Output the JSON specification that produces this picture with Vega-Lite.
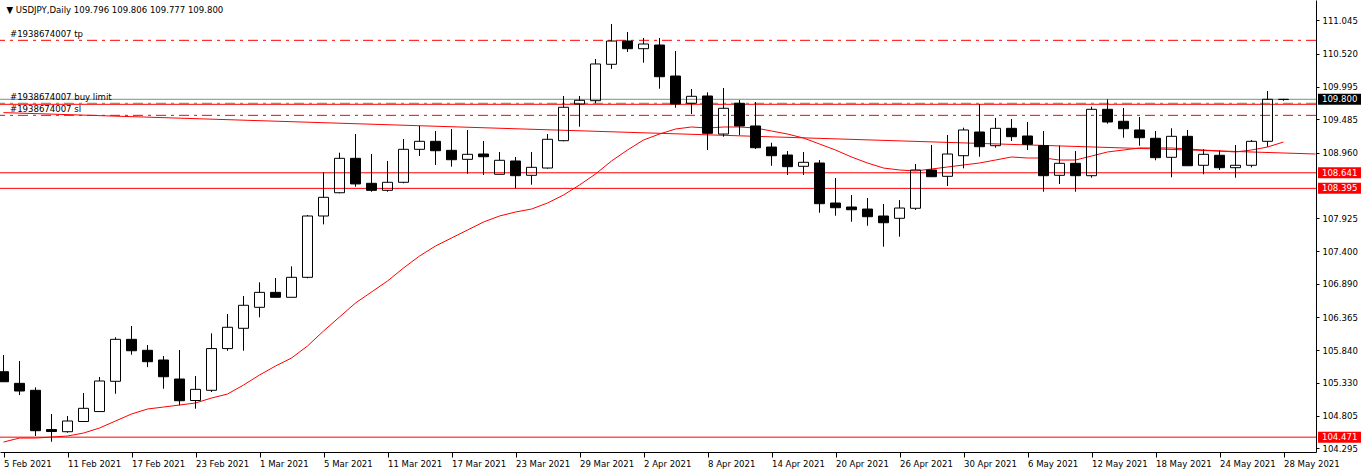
{
  "$schema": "https://vega.github.io/schema/vega-lite/v6.json",
  "width": 1316,
  "height": 452,
  "autosize": {"type": "none"},
  "padding": {"left": 0, "top": 0, "right": 46, "bottom": 21},
  "background": "#ffffff",
  "config": {
    "view": {"stroke": null},
    "font": "DejaVu Sans Condensed, Liberation Sans, sans-serif",
    "axis": {"domainColor": "#000000", "tickColor": "#000000", "labelColor": "#000000", "labelFontSize": 9.5, "labelFont": "DejaVu Sans Condensed, Liberation Sans, sans-serif", "grid": false, "labelOverlap": false, "labelFlush": false}
  },
  "datasets": {
    "candles": [
      {"d": "5 Feb 2021", "o": 105.503, "h": 105.767, "l": 105.341, "c": 105.345, "ma": 104.394},
      {"d": "8 Feb 2021", "o": 105.320, "h": 105.672, "l": 105.135, "c": 105.199, "ma": 104.457},
      {"d": "9 Feb 2021", "o": 105.210, "h": 105.257, "l": 104.489, "c": 104.573, "ma": 104.457},
      {"d": "10 Feb 2021", "o": 104.591, "h": 104.836, "l": 104.399, "c": 104.560, "ma": 104.473},
      {"d": "11 Feb 2021", "o": 104.557, "h": 104.804, "l": 104.541, "c": 104.726, "ma": 104.489},
      {"d": "12 Feb 2021", "o": 104.718, "h": 105.167, "l": 104.715, "c": 104.926, "ma": 104.536},
      {"d": "15 Feb 2021", "o": 104.875, "h": 105.420, "l": 104.872, "c": 105.357, "ma": 104.615},
      {"d": "16 Feb 2021", "o": 105.352, "h": 106.046, "l": 105.156, "c": 106.014, "ma": 104.726},
      {"d": "17 Feb 2021", "o": 106.014, "h": 106.224, "l": 105.771, "c": 105.834, "ma": 104.836},
      {"d": "18 Feb 2021", "o": 105.841, "h": 105.924, "l": 105.576, "c": 105.661, "ma": 104.915},
      {"d": "19 Feb 2021", "o": 105.688, "h": 105.751, "l": 105.235, "c": 105.424, "ma": 104.946},
      {"d": "22 Feb 2021", "o": 105.388, "h": 105.846, "l": 104.973, "c": 105.046, "ma": 104.978},
      {"d": "23 Feb 2021", "o": 105.049, "h": 105.435, "l": 104.920, "c": 105.225, "ma": 105.010},
      {"d": "24 Feb 2021", "o": 105.210, "h": 106.109, "l": 105.183, "c": 105.868, "ma": 105.088},
      {"d": "25 Feb 2021", "o": 105.868, "h": 106.413, "l": 105.834, "c": 106.204, "ma": 105.151},
      {"d": "26 Feb 2021", "o": 106.188, "h": 106.697, "l": 105.834, "c": 106.551, "ma": 105.293},
      {"d": "1 Mar 2021", "o": 106.519, "h": 106.913, "l": 106.362, "c": 106.755, "ma": 105.451},
      {"d": "2 Mar 2021", "o": 106.755, "h": 106.981, "l": 106.674, "c": 106.677, "ma": 105.593},
      {"d": "3 Mar 2021", "o": 106.677, "h": 107.165, "l": 106.674, "c": 106.992, "ma": 105.719},
      {"d": "4 Mar 2021", "o": 106.992, "h": 107.975, "l": 106.976, "c": 107.959, "ma": 105.909},
      {"d": "5 Mar 2021", "o": 107.959, "h": 108.648, "l": 107.827, "c": 108.254, "ma": 106.145},
      {"d": "8 Mar 2021", "o": 108.326, "h": 108.958, "l": 108.317, "c": 108.869, "ma": 106.366},
      {"d": "9 Mar 2021", "o": 108.869, "h": 109.252, "l": 108.421, "c": 108.465, "ma": 106.587},
      {"d": "10 Mar 2021", "o": 108.475, "h": 108.937, "l": 108.342, "c": 108.364, "ma": 106.760},
      {"d": "11 Mar 2021", "o": 108.364, "h": 108.827, "l": 108.342, "c": 108.491, "ma": 106.934},
      {"d": "12 Mar 2021", "o": 108.491, "h": 109.174, "l": 108.475, "c": 109.011, "ma": 107.139},
      {"d": "15 Mar 2021", "o": 109.011, "h": 109.379, "l": 108.905, "c": 109.137, "ma": 107.328},
      {"d": "16 Mar 2021", "o": 109.137, "h": 109.300, "l": 108.764, "c": 108.989, "ma": 107.486},
      {"d": "17 Mar 2021", "o": 108.995, "h": 109.331, "l": 108.737, "c": 108.847, "ma": 107.612},
      {"d": "18 Mar 2021", "o": 108.853, "h": 109.316, "l": 108.626, "c": 108.932, "ma": 107.738},
      {"d": "19 Mar 2021", "o": 108.937, "h": 109.142, "l": 108.606, "c": 108.894, "ma": 107.864},
      {"d": "22 Mar 2021", "o": 108.617, "h": 108.969, "l": 108.614, "c": 108.838, "ma": 107.959},
      {"d": "23 Mar 2021", "o": 108.827, "h": 108.890, "l": 108.396, "c": 108.595, "ma": 108.022},
      {"d": "24 Mar 2021", "o": 108.601, "h": 108.969, "l": 108.453, "c": 108.727, "ma": 108.069},
      {"d": "25 Mar 2021", "o": 108.716, "h": 109.252, "l": 108.705, "c": 109.169, "ma": 108.164},
      {"d": "26 Mar 2021", "o": 109.147, "h": 109.852, "l": 109.137, "c": 109.674, "ma": 108.290},
      {"d": "29 Mar 2021", "o": 109.726, "h": 109.852, "l": 109.368, "c": 109.784, "ma": 108.448},
      {"d": "30 Mar 2021", "o": 109.778, "h": 110.435, "l": 109.737, "c": 110.357, "ma": 108.621},
      {"d": "31 Mar 2021", "o": 110.352, "h": 110.987, "l": 110.278, "c": 110.719, "ma": 108.827},
      {"d": "1 Apr 2021", "o": 110.719, "h": 110.861, "l": 110.546, "c": 110.598, "ma": 109.000},
      {"d": "2 Apr 2021", "o": 110.598, "h": 110.767, "l": 110.377, "c": 110.672, "ma": 109.158},
      {"d": "5 Apr 2021", "o": 110.656, "h": 110.767, "l": 109.967, "c": 110.156, "ma": 109.252},
      {"d": "6 Apr 2021", "o": 110.167, "h": 110.562, "l": 109.667, "c": 109.726, "ma": 109.331},
      {"d": "7 Apr 2021", "o": 109.737, "h": 109.962, "l": 109.568, "c": 109.847, "ma": 109.363},
      {"d": "8 Apr 2021", "o": 109.852, "h": 109.910, "l": 109.000, "c": 109.264, "ma": 109.347},
      {"d": "9 Apr 2021", "o": 109.252, "h": 109.978, "l": 109.210, "c": 109.658, "ma": 109.363},
      {"d": "12 Apr 2021", "o": 109.737, "h": 109.789, "l": 109.237, "c": 109.379, "ma": 109.363},
      {"d": "13 Apr 2021", "o": 109.379, "h": 109.757, "l": 109.016, "c": 109.036, "ma": 109.347},
      {"d": "14 Apr 2021", "o": 109.047, "h": 109.115, "l": 108.752, "c": 108.910, "ma": 109.300},
      {"d": "15 Apr 2021", "o": 108.921, "h": 108.984, "l": 108.606, "c": 108.737, "ma": 109.252},
      {"d": "16 Apr 2021", "o": 108.743, "h": 108.969, "l": 108.606, "c": 108.806, "ma": 109.189},
      {"d": "19 Apr 2021", "o": 108.795, "h": 108.842, "l": 108.011, "c": 108.153, "ma": 109.095},
      {"d": "20 Apr 2021", "o": 108.164, "h": 108.558, "l": 107.964, "c": 108.090, "ma": 109.000},
      {"d": "21 Apr 2021", "o": 108.101, "h": 108.290, "l": 107.869, "c": 108.058, "ma": 108.890},
      {"d": "22 Apr 2021", "o": 108.069, "h": 108.243, "l": 107.806, "c": 107.948, "ma": 108.795},
      {"d": "23 Apr 2021", "o": 107.959, "h": 108.148, "l": 107.475, "c": 107.853, "ma": 108.716},
      {"d": "26 Apr 2021", "o": 107.923, "h": 108.211, "l": 107.633, "c": 108.085, "ma": 108.685},
      {"d": "27 Apr 2021", "o": 108.081, "h": 108.779, "l": 108.054, "c": 108.685, "ma": 108.669},
      {"d": "28 Apr 2021", "o": 108.685, "h": 109.079, "l": 108.577, "c": 108.579, "ma": 108.700},
      {"d": "29 Apr 2021", "o": 108.585, "h": 109.237, "l": 108.432, "c": 108.937, "ma": 108.732},
      {"d": "30 Apr 2021", "o": 108.910, "h": 109.352, "l": 108.711, "c": 109.316, "ma": 108.764},
      {"d": "3 May 2021", "o": 109.284, "h": 109.726, "l": 108.894, "c": 109.052, "ma": 108.795},
      {"d": "4 May 2021", "o": 109.068, "h": 109.505, "l": 109.036, "c": 109.342, "ma": 108.842},
      {"d": "5 May 2021", "o": 109.342, "h": 109.489, "l": 109.142, "c": 109.210, "ma": 108.890},
      {"d": "6 May 2021", "o": 109.221, "h": 109.442, "l": 109.000, "c": 109.090, "ma": 108.874},
      {"d": "7 May 2021", "o": 109.068, "h": 109.300, "l": 108.342, "c": 108.595, "ma": 108.874},
      {"d": "10 May 2021", "o": 108.601, "h": 109.068, "l": 108.464, "c": 108.790, "ma": 108.842},
      {"d": "11 May 2021", "o": 108.790, "h": 108.984, "l": 108.342, "c": 108.595, "ma": 108.842},
      {"d": "12 May 2021", "o": 108.595, "h": 109.683, "l": 108.563, "c": 109.642, "ma": 108.905},
      {"d": "13 May 2021", "o": 109.642, "h": 109.800, "l": 109.415, "c": 109.442, "ma": 108.969},
      {"d": "14 May 2021", "o": 109.453, "h": 109.663, "l": 109.194, "c": 109.336, "ma": 109.000},
      {"d": "17 May 2021", "o": 109.316, "h": 109.521, "l": 109.068, "c": 109.194, "ma": 109.032},
      {"d": "18 May 2021", "o": 109.185, "h": 109.300, "l": 108.838, "c": 108.879, "ma": 109.032},
      {"d": "19 May 2021", "o": 108.885, "h": 109.342, "l": 108.570, "c": 109.216, "ma": 109.032},
      {"d": "20 May 2021", "o": 109.216, "h": 109.316, "l": 108.752, "c": 108.752, "ma": 109.016},
      {"d": "21 May 2021", "o": 108.759, "h": 109.011, "l": 108.617, "c": 108.932, "ma": 109.000},
      {"d": "24 May 2021", "o": 108.917, "h": 108.989, "l": 108.685, "c": 108.721, "ma": 108.984},
      {"d": "25 May 2021", "o": 108.721, "h": 109.079, "l": 108.563, "c": 108.759, "ma": 108.969},
      {"d": "26 May 2021", "o": 108.759, "h": 109.158, "l": 108.727, "c": 109.137, "ma": 109.000},
      {"d": "27 May 2021", "o": 109.137, "h": 109.931, "l": 109.052, "c": 109.800, "ma": 109.047},
      {"d": "28 May 2021", "o": 109.796, "h": 109.806, "l": 109.777, "c": 109.800, "ma": 109.126}
    ],
    "levels": [
      {"p": 109.721, "kind": "solid"},
      {"p": 108.641, "kind": "solid"},
      {"p": 108.395, "kind": "solid"},
      {"p": 104.471, "kind": "solid"},
      {"p": 110.730, "kind": "tpsl"},
      {"p": 109.547, "kind": "tpsl"},
      {"p": 109.737, "kind": "pending"},
      {"p": 109.800, "kind": "bid"}
    ],
    "trend": [
      {"d": "5 Feb 2021", "p": 109.590},
      {"d": "1 Jun 2021", "p": 108.937}
    ],
    "orders": [
      {"d": "5 Feb 2021", "p": 110.730, "t": "#1938674007 tp"},
      {"d": "5 Feb 2021", "p": 109.737, "t": "#1938674007 buy limit"},
      {"d": "5 Feb 2021", "p": 109.547, "t": "#1938674007 sl"}
    ],
    "tags": [
      {"d": "1 Jun 2021", "p": 109.800, "t": "109.800", "kind": "bid"},
      {"d": "1 Jun 2021", "p": 108.641, "t": "108.641", "kind": "level"},
      {"d": "1 Jun 2021", "p": 108.395, "t": "108.395", "kind": "level"},
      {"d": "1 Jun 2021", "p": 104.471, "t": "104.471", "kind": "level"}
    ],
    "header": [
      {"d": "5 Feb 2021", "p": 111.366, "t": "▼ USDJPY,Daily  109.796 109.806 109.777 109.800"}
    ]
  },
  "layer": [
    {
      "data": {"name": "candles"},
      "mark": {"type": "line", "color": "#ff0000", "strokeWidth": 1},
      "encoding": {
        "x": {
          "field": "d", "type": "ordinal",
          "scale": {
            "type": "point", "padding": 0.125, "align": 0.875,
            "domain": ["5 Feb 2021","8 Feb 2021","9 Feb 2021","10 Feb 2021","11 Feb 2021","12 Feb 2021","15 Feb 2021","16 Feb 2021","17 Feb 2021","18 Feb 2021","19 Feb 2021","22 Feb 2021","23 Feb 2021","24 Feb 2021","25 Feb 2021","26 Feb 2021","1 Mar 2021","2 Mar 2021","3 Mar 2021","4 Mar 2021","5 Mar 2021","8 Mar 2021","9 Mar 2021","10 Mar 2021","11 Mar 2021","12 Mar 2021","15 Mar 2021","16 Mar 2021","17 Mar 2021","18 Mar 2021","19 Mar 2021","22 Mar 2021","23 Mar 2021","24 Mar 2021","25 Mar 2021","26 Mar 2021","29 Mar 2021","30 Mar 2021","31 Mar 2021","1 Apr 2021","2 Apr 2021","5 Apr 2021","6 Apr 2021","7 Apr 2021","8 Apr 2021","9 Apr 2021","12 Apr 2021","13 Apr 2021","14 Apr 2021","15 Apr 2021","16 Apr 2021","19 Apr 2021","20 Apr 2021","21 Apr 2021","22 Apr 2021","23 Apr 2021","26 Apr 2021","27 Apr 2021","28 Apr 2021","29 Apr 2021","30 Apr 2021","3 May 2021","4 May 2021","5 May 2021","6 May 2021","7 May 2021","10 May 2021","11 May 2021","12 May 2021","13 May 2021","14 May 2021","17 May 2021","18 May 2021","19 May 2021","20 May 2021","21 May 2021","24 May 2021","25 May 2021","26 May 2021","27 May 2021","28 May 2021","31 May 2021","1 Jun 2021"]
          },
          "axis": {
            "values": ["5 Feb 2021","11 Feb 2021","17 Feb 2021","23 Feb 2021","1 Mar 2021","5 Mar 2021","11 Mar 2021","17 Mar 2021","23 Mar 2021","29 Mar 2021","2 Apr 2021","8 Apr 2021","14 Apr 2021","20 Apr 2021","26 Apr 2021","30 Apr 2021","6 May 2021","12 May 2021","18 May 2021","24 May 2021","28 May 2021"],
            "title": null, "labelAngle": 0, "tickSize": 5, "labelPadding": 1,
            "labelAlign": "left", "labelBaseline": "top", "labelOverlap": false
          }
        },
        "y": {
          "field": "ma", "type": "quantitative",
          "scale": {"domain": [104.237, 111.366], "nice": false, "zero": false},
          "axis": {
            "orient": "right",
            "values": [111.045, 110.52, 109.995, 109.485, 108.96, 107.925, 107.4, 106.89, 106.365, 105.84, 105.33, 104.805, 104.295],
            "tickCount": 40,
            "format": ".3f", "title": null, "tickSize": 3, "labelPadding": 3,
            "labelAlign": "left", "labelBaseline": "middle", "labelOverlap": false
          }
        },
        "order": {"value": null}
      }
    },
    {
      "data": {"name": "levels"},
      "transform": [{"filter": "datum.kind == 'solid'"}],
      "mark": {"type": "rule", "color": "#ff0000", "strokeWidth": 1},
      "encoding": {"y": {"field": "p", "type": "quantitative", "axis": {"tickCount": 40}}}
    },
    {
      "data": {"name": "levels"},
      "transform": [{"filter": "datum.kind == 'tpsl'"}],
      "mark": {"type": "rule", "color": "#ff0000", "strokeWidth": 1, "strokeDash": [10, 5, 3, 5]},
      "encoding": {"y": {"field": "p", "type": "quantitative", "axis": {"tickCount": 40}}}
    },
    {
      "data": {"name": "levels"},
      "transform": [{"filter": "datum.kind == 'pending'"}],
      "mark": {"type": "rule", "color": "#4d9a3f", "strokeWidth": 1, "strokeDash": [10, 5, 3, 5]},
      "encoding": {"y": {"field": "p", "type": "quantitative", "axis": {"tickCount": 40}}}
    },
    {
      "data": {"name": "levels"},
      "transform": [{"filter": "datum.kind == 'bid'"}],
      "mark": {"type": "rule", "color": "#808c8c", "strokeWidth": 1},
      "encoding": {"y": {"field": "p", "type": "quantitative", "axis": {"tickCount": 40}}}
    },
    {
      "data": {"name": "trend"},
      "mark": {"type": "line", "color": "#ff0000", "strokeWidth": 1},
      "encoding": {
        "x": {"field": "d", "type": "ordinal"},
        "y": {"field": "p", "type": "quantitative", "axis": {"tickCount": 40}},
        "order": {"value": null}
      }
    },
    {
      "data": {"name": "candles"},
      "transform": [{"filter": "datum.c >= datum.o"}],
      "mark": {"type": "rule", "color": "#000000", "strokeWidth": 1},
      "encoding": {
        "x": {"field": "d", "type": "ordinal"},
        "y": {"field": "h", "type": "quantitative", "axis": {"tickCount": 40}},
        "y2": {"field": "c"}
      }
    },
    {
      "data": {"name": "candles"},
      "transform": [{"filter": "datum.c >= datum.o"}],
      "mark": {"type": "rule", "color": "#000000", "strokeWidth": 1},
      "encoding": {
        "x": {"field": "d", "type": "ordinal"},
        "y": {"field": "o", "type": "quantitative", "axis": {"tickCount": 40}},
        "y2": {"field": "l"}
      }
    },
    {
      "data": {"name": "candles"},
      "transform": [{"filter": "datum.c < datum.o"}],
      "mark": {"type": "rule", "color": "#000000", "strokeWidth": 1},
      "encoding": {
        "x": {"field": "d", "type": "ordinal"},
        "y": {"field": "h", "type": "quantitative", "axis": {"tickCount": 40}},
        "y2": {"field": "l"}
      }
    },
    {
      "data": {"name": "candles"},
      "transform": [{"filter": "datum.c >= datum.o"}],
      "mark": {"type": "bar", "width": 10, "fill": "#ffffff", "fillOpacity": 0, "stroke": "#000000", "strokeWidth": 1},
      "encoding": {
        "x": {"field": "d", "type": "ordinal"},
        "y": {"field": "o", "type": "quantitative", "axis": {"tickCount": 40}},
        "y2": {"field": "c"}
      }
    },
    {
      "data": {"name": "candles"},
      "transform": [{"filter": "datum.c < datum.o"}],
      "mark": {"type": "bar", "width": 10, "fill": "#000000", "stroke": "#000000", "strokeWidth": 1},
      "encoding": {
        "x": {"field": "d", "type": "ordinal"},
        "y": {"field": "o", "type": "quantitative", "axis": {"tickCount": 40}},
        "y2": {"field": "c"}
      }
    },
    {
      "data": {"name": "orders"},
      "mark": {"type": "text", "align": "left", "baseline": "alphabetic", "dx": 6.5, "dy": -3, "fontSize": 9.5, "color": "#000000"},
      "encoding": {
        "x": {"field": "d", "type": "ordinal"},
        "y": {"field": "p", "type": "quantitative", "axis": {"tickCount": 40}},
        "text": {"field": "t"}
      }
    },
    {
      "data": {"name": "header"},
      "mark": {"type": "text", "align": "left", "baseline": "middle", "dx": 3, "dy": 10, "fontSize": 9.5, "color": "#000000"},
      "encoding": {
        "x": {"field": "d", "type": "ordinal"},
        "y": {"field": "p", "type": "quantitative", "axis": {"tickCount": 40}},
        "text": {"field": "t"}
      }
    },
    {
      "data": {"name": "tags"},
      "mark": {"type": "point", "shape": "M0.114,-0.25L2.068,-0.25L2.068,0.25L0.114,0.25Z", "size": 1936, "filled": true, "opacity": 1, "strokeWidth": 0},
      "encoding": {
        "x": {"field": "d", "type": "ordinal"},
        "y": {"field": "p", "type": "quantitative", "axis": {"tickCount": 40}},
        "color": {"field": "kind", "type": "nominal", "scale": {"domain": ["bid", "level"], "range": ["#000000", "#ff0000"]}, "legend": null}
      }
    },
    {
      "data": {"name": "tags"},
      "mark": {"type": "text", "align": "left", "baseline": "middle", "dx": 6.5, "fontSize": 9.5, "color": "#ffffff"},
      "encoding": {
        "x": {"field": "d", "type": "ordinal"},
        "y": {"field": "p", "type": "quantitative", "axis": {"tickCount": 40}},
        "text": {"field": "t"}
      }
    }
  ]
}
